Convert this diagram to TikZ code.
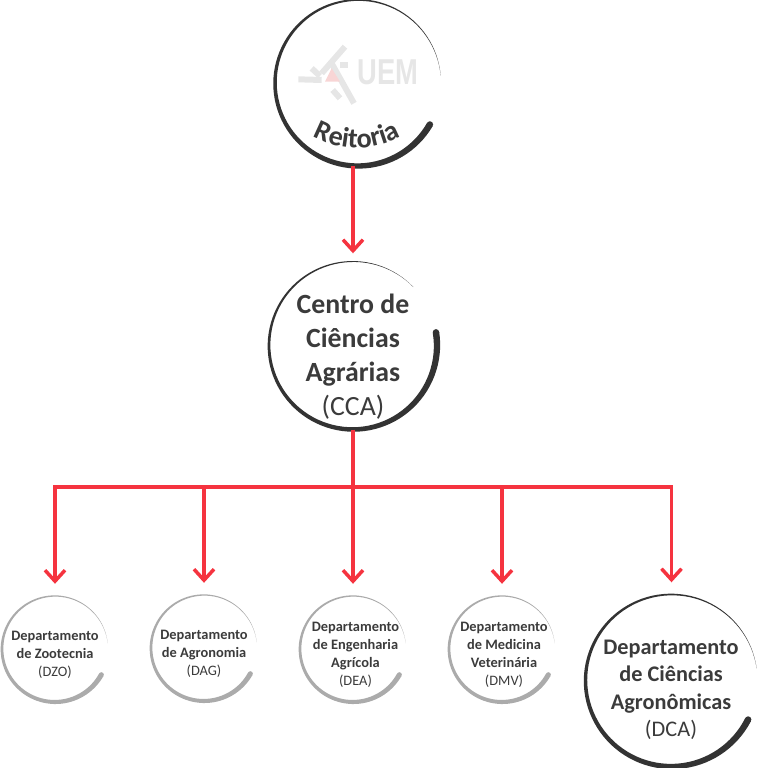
\documentclass[tikz,border=0pt]{standalone}
\usepackage{fontspec}
\setmainfont{Carlito}
\newfontfamily\logofont{Liberation Sans}
\usepackage{xcolor}
\usetikzlibrary{arrows.meta,decorations.text}
\definecolor{arcdark}{HTML}{333333}
\definecolor{arclight}{HTML}{ABABAB}
\definecolor{linkred}{HTML}{F5333F}
\definecolor{labelgrey}{HTML}{3B3B3B}
\definecolor{logogrey}{HTML}{E6E6E6}
\definecolor{logopink}{HTML}{F8D5D5}
\newcommand{\swoosh}[5]{%
  \begin{scope}[shift={(#1.center)}]
  \fill[#4] plot[domain=0:1,samples=90]
      ({(#2+#5*\x/2)*cos(#3+325*\x)},{(#2+#5*\x/2)*sin(#3+325*\x)})
    -- plot[domain=1:0,samples=90]
      ({(#2-#5*\x/2)*cos(#3+325*\x)},{(#2-#5*\x/2)*sin(#3+325*\x)}) -- cycle;
  \fill[#4] ({#3+325}:#2) circle ({#5/2});
  \end{scope}}

\begin{document}
\begin{tikzpicture}[x=1pt,y=1pt,
  orgunit/.style={circle, inner sep=0pt},
  wire/.style={draw=linkred, line width=3.5pt},
  link/.style={wire, -{Straight Barb[length=11pt,width=20pt]}, shorten >=12pt},
  logobar/.style={draw=logogrey, line width=6pt},
  smalltext/.style={align=center, text=labelgrey, font=\fontsize{14.4}{18}\selectfont},
  bigtext/.style={align=center, text=labelgrey, font=\fontsize{22.3}{27.5}\selectfont}]
\useasboundingbox (0,0) rectangle (762,768);
\node (reitoria) [orgunit, minimum size=166pt] at (358,685) {};
\node (cca) [orgunit, minimum size=168pt] at (353,422.5) {};
\node (dzo) [orgunit, minimum size=106pt] at (55,119) {};
\node (dag) [orgunit, minimum size=106pt] at (204,120) {};
\node (dea) [orgunit, minimum size=106pt] at (353,119) {};
\node (dmv) [orgunit, minimum size=106pt] at (502,119) {};
\node (dca) [orgunit, minimum size=172pt] at (671.5,87.5) {};
\coordinate (bus) at (353,281);
\swoosh{reitoria}{83}{5}{arcdark}{6.5}
\swoosh{cca}{84}{44}{arcdark}{6.5}
\swoosh{dzo}{53}{6}{arclight}{5}
\swoosh{dag}{53}{6}{arclight}{5}
\swoosh{dea}{53}{6}{arclight}{5}
\swoosh{dmv}{53}{6}{arclight}{5}
\swoosh{dca}{86}{8}{arcdark}{6.5}
\begin{scope}[shift={(290,728)},x=.3333pt,y=-.3333pt]
\draw[logobar] (165,20) -- (95,100);
\draw[logobar] (65,85) -- (90,108);
\draw[logobar] (25,118) -- (95,120);
\draw[logobar] (150,75) -- (175,75);
\draw[logobar] (122,65) -- (192,190);
\draw[logobar] (128,150) -- (150,175);
\fill[logopink] (105,125) -- (125,85) -- (150,125) -- cycle;
\end{scope}
\node (uem) [transform shape, xscale=.76, text=logogrey, font=\logofont\bfseries\fontsize{36}{36}\selectfont,
  inner sep=0pt] at (388,696) {UEM};
\path[decorate, decoration={text along path, text align=center,
    text={|\fontsize{28}{28}\selectfont\bfseries\color{labelgrey}|Reitoria}}]
  (305.4,636.3) arc[start angle=235,end angle=305,radius=90];
\node (ccatext) [align=center, text=labelgrey, font=\fontsize{27.8}{34}\selectfont] at (353,411.5)
  {\textbf{Centro de}\\\textbf{Ciências}\\\textbf{Agrárias}\\(CCA)};
\node (dzotext) [smalltext] at (55,113) {\textbf{Departamento}\\\textbf{de Zootecnia}\\(DZO)};
\node (dagtext) [smalltext] at (204,114) {\textbf{Departamento}\\\textbf{de Agronomia}\\(DAG)};
\node (deatext) [smalltext] at (355.5,113) {\textbf{Departamento}\\\textbf{de Engenharia}\\\textbf{Agrícola}\\(DEA)};
\node (dmvtext) [smalltext] at (504,113) {\textbf{Departamento}\\\textbf{de Medicina}\\\textbf{Veterinária}\\(DMV)};
\node (dcatext) [bigtext] at (671,78) {\textbf{Departamento}\\\textbf{de Ciências}\\\textbf{Agronômicas}\\(DCA)};
\draw[link, shorten >=8pt] (cca.north |- reitoria.south) -- (cca);
\draw[wire] (cca.south) -- (bus);
\foreach \dept in {dzo,dag,dea,dmv,dca}
  \draw[link] (bus) -| (\dept);
\end{tikzpicture}
\end{document}
